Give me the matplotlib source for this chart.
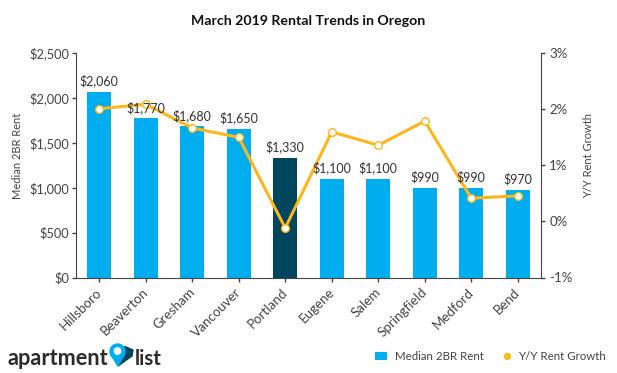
import numpy as np
import matplotlib
matplotlib.use('Agg')
import matplotlib.pyplot as plt
from matplotlib.patches import Circle, Polygon, Rectangle
from matplotlib.transforms import ScaledTranslation

plt.rcParams['font.family'] = ['Lato', 'DejaVu Sans']

cities = ['Hillsboro', 'Beaverton', 'Gresham', 'Vancouver', 'Portland',
          'Eugene', 'Salem', 'Springfield', 'Medford', 'Bend']
rent = [2060, 1770, 1680, 1650, 1330, 1100, 1100, 990, 990, 970]
growth = [2.0, 2.08, 1.66, 1.49, -0.12, 1.59, 1.35, 1.78, 0.41, 0.45]
rent_ticks = [0, 500, 1000, 1500, 2000, 2500]
growth_ticks = [-1, 0, 1, 2, 3]

blue = '#00AEEF'
dark = '#00465F'
yellow = '#FDB71A'
grey = '#444444'
W, H = 617, 373

fig = plt.figure(figsize=(W / 100, H / 100), dpi=100)
ax = fig.add_axes([76 / W, 1 - 277.5 / H, 465 / W, 225 / H])
x = np.arange(len(cities))

colors = [dark if c == 'Portland' else blue for c in cities]
ax.bar(x, rent, width=0.51, color=colors, zorder=2)

ax.set_xlim(-0.5, 9.5)
ax.set_ylim(0, 2500)
ax.set_yticks(rent_ticks)
ax.set_yticklabels(['${:,}'.format(t) for t in rent_ticks], fontsize=9.2, color=grey)
ax.set_xticks(x)
ax.set_xticklabels(cities, rotation=45, ha='right', rotation_mode='anchor',
                   fontsize=9.6, color=grey)
ax.tick_params(axis='y', length=3, width=1, color=grey, pad=2)
ax.tick_params(axis='x', length=3, width=1, color=grey, pad=3)
# nudge the slanted labels left so they end under the tick
shift = ScaledTranslation(-4 / 100, 0, fig.dpi_scale_trans)
for lab in ax.get_xticklabels():
    lab.set_transform(lab.get_transform() + shift)
ax.spines['top'].set_visible(False)
ax.spines['right'].set_visible(False)
for s in ['left', 'bottom']:
    ax.spines[s].set_color(grey)

ax2 = ax.twinx()
ax2.plot(x, growth, color=yellow, lw=2.2, marker='o', ms=5.5, mfc='white',
         mec=yellow, mew=1, zorder=5)
ax2.set_ylim(-1, 3)
ax2.set_yticks(growth_ticks)
ax2.set_yticklabels(['{}%'.format(t) for t in growth_ticks], fontsize=9.5, color=grey)
ax2.tick_params(axis='y', length=3, width=1, color=grey, pad=3)
ax2.spines['top'].set_visible(False)
ax2.spines['left'].set_visible(False)
ax2.spines['bottom'].set_visible(False)
ax2.spines['right'].set_color(grey)

# value labels go on ax2 so they sit over the line
for xi, r in zip(x, rent):
    ax2.text(xi, r + 50, '${:,}'.format(r), transform=ax.transData, ha='center', va='bottom',
             fontsize=9, color='#333333', zorder=6)

fig.text(18 / W, 1 - 156 / H, 'Median 2BR Rent', rotation=90, ha='center', va='center',
         fontsize=8, color=grey)
fig.text(589 / W, 1 - 155 / H, 'Y/Y Rent Growth', rotation=90, ha='center', va='center',
         fontsize=8, color=grey)
fig.text(308 / W, 1 - 21 / H, 'March 2019 Rental Trends in Oregon', ha='center', va='center',
         fontsize=10.2, fontweight='bold', color='#111111')

# footer: legend and logo, placed by hand in pixels
ov = fig.add_axes([0, 0, 1, 1])
ov.set_xlim(0, W)
ov.set_ylim(H, 0)
ov.axis('off')
ov.patch.set_visible(False)
ov.add_patch(Rectangle((375, 352), 11.5, 8, color=blue, lw=0))
ov.text(395, 356, 'Median 2BR Rent', fontsize=8.3, color=grey, va='center')
ov.scatter([507], [356], marker='o', s=28, color=yellow, lw=0)
ov.text(518, 356, 'Y/Y Rent Growth', fontsize=8.3, color=grey, va='center')

ov.text(8, 365, 'apartment', fontsize=15.6, fontweight='bold', color='#2b2b2b', va='baseline')
ov.text(135, 365, 'list', fontsize=14.6, fontweight='bold', color='#2b2b2b', va='baseline')
ov.add_patch(Polygon([(110.5, 354), (124.5, 354), (118, 366)], closed=True, color=blue, zorder=3))
ov.add_patch(Polygon([(118, 366), (132, 356), (133, 350), (126, 347), (118, 346)], closed=True,
                     color=dark, zorder=2))
ov.add_patch(Circle((117.5, 351.5), 7.5, color=blue, zorder=3))
ov.add_patch(Circle((117.5, 351), 3.2, color='white', zorder=4))

fig.savefig('out.png', dpi=100)
